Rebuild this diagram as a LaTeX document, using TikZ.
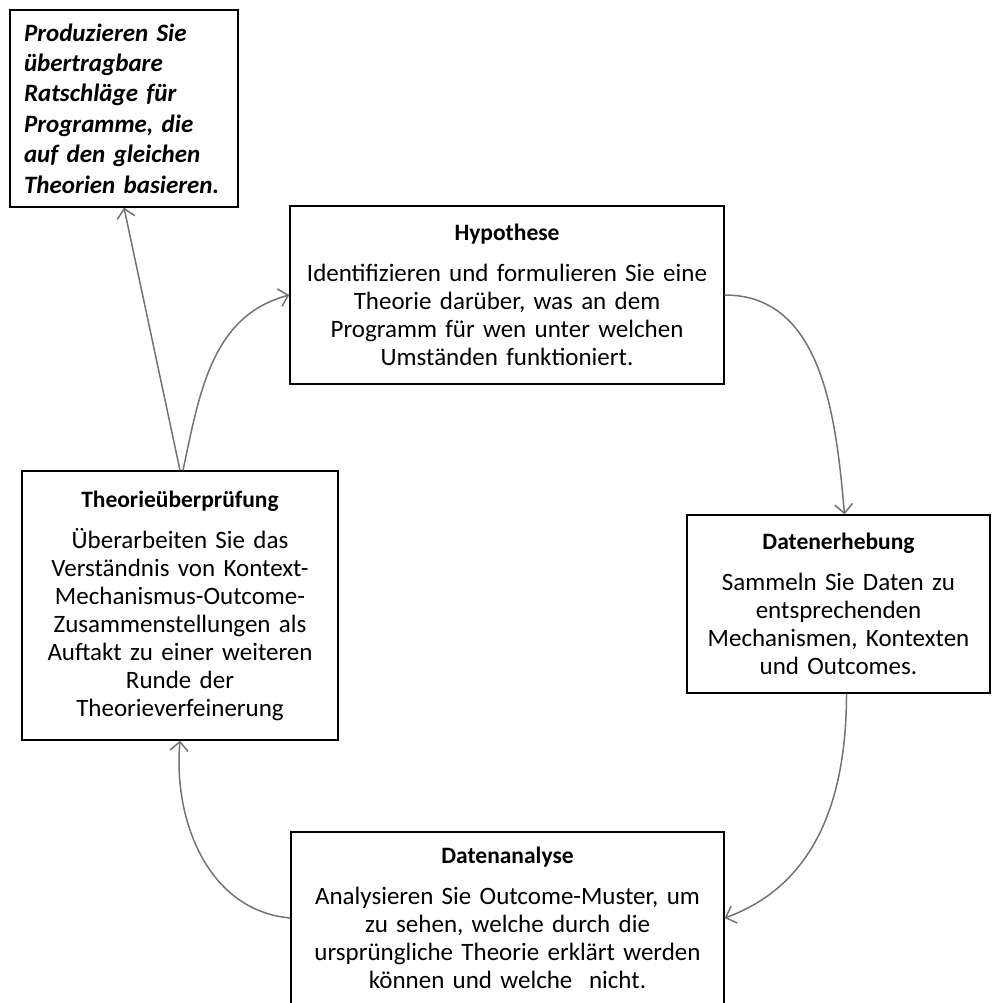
\documentclass[tikz,border=0pt]{standalone}
\usepackage{fontspec}
\setmainfont{Carlito}[WordSpace=0.5]
\usetikzlibrary{arrows.meta}
\definecolor{arrgray}{RGB}{115,115,115}
\tikzset{
  stagebox/.style={draw=black, line width=1.4pt, fill=white, align=center,
                   minimum width=#1, text width=#1-6pt, inner sep=0pt,
                   font=\fontsize{25}{28}\selectfont},
  stagebox/.default=300pt,
  notebox/.style ={draw=black, line width=1.4pt, fill=white, align=left,
                   minimum width=228pt, minimum height=197pt, text width=200pt,
                   inner sep=0pt, font=\fontsize{25}{30.4}\selectfont\bfseries\itshape},
  arr/.style     ={-{Straight Barb[length=9pt,width=18pt]}, draw=arrgray, line width=1.5pt},
}
\newcommand{\stagetitle}[1]{{\fontsize{23.5}{28}\selectfont\textbf{#1}}\\[13pt]}
\begin{document}
\begin{tikzpicture}[x=1pt,y=1pt]
  \useasboundingbox (0,0) rectangle (992,-1003);
  % boxes
  \node[notebox] (rat) at (124,-108.5)
    {Produzieren Sie\\ übertragbare\\ Ratschläge für\\ Programme, die\\ auf den gleichen\\ Theorien basieren.};
  \node[stagebox=434pt, minimum height=178pt] (hyp) at (507,-295)
    {\stagetitle{Hypothese}Identifizieren und formulieren Sie eine\\ Theorie darüber, was an dem\\ Programm für wen unter welchen\\ Umständen funktioniert.};
  \node[stagebox=303pt, minimum height=178pt] (erh) at (838.5,-604)
    {\stagetitle{Datenerhebung}Sammeln Sie Daten zu\\ entsprechenden\\ Mechanismen, Kontexten\\ und Outcomes.};
  \node[stagebox=433pt, minimum height=172pt] (ana) at (507.5,-918)
    {\stagetitle{Datenanalyse}Analysieren Sie Outcome-Muster, um\\ zu sehen, welche durch die\\ ursprüngliche Theorie erklärt werden\\ können und welche\ \ nicht.};
  \node[stagebox=316pt, minimum height=269pt] (rev) at (180,-605.5)
    {\stagetitle{Theorieüberprüfung}Überarbeiten Sie das\\ Verständnis von Kontext-\\ Mechanismus-Outcome-\\ Zusammenstellungen als\\ Auftakt zu einer weiteren\\ Runde der\\ Theorieverfeinerung};
  % connectors
  \draw[arr] (rev.north) -- (rat.south);
  \draw[arr] ([xshift=3pt]rev.north) to[out=78, in=195] (hyp.west);
  \draw[arr] (hyp.east) to[out=0, in=95] ([xshift=6pt]erh.north);
  \draw[arr] ([xshift=8pt]erh.south) to[out=-90, in=20] (ana.east);
  \draw[arr] (ana.west) to[out=175, in=-95] (rev.south);
\end{tikzpicture}
\end{document}
